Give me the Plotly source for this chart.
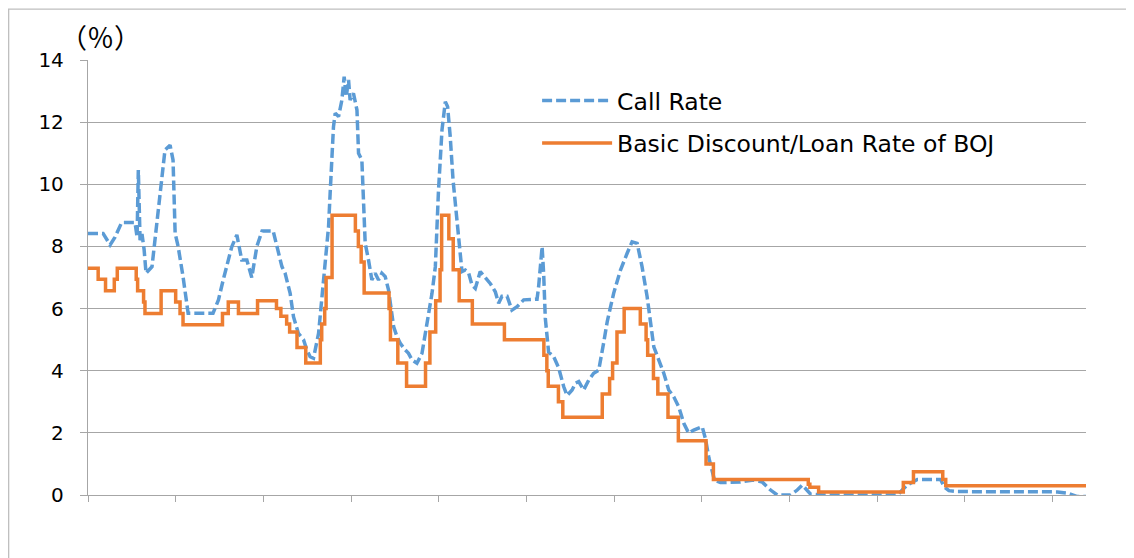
import plotly.graph_objects as go

# Call rate (decimal year, %)
call_year = [1960.00, 1960.86, 1961.26, 1961.54, 1961.92, 1962.68, 1962.80, 1962.87, 1962.97, 1963.08,
             1963.20, 1963.31, 1963.65, 1963.88, 1964.11, 1964.39, 1964.68, 1964.85, 1964.97, 1965.14,
             1965.42, 1965.71, 1967.13, 1967.44, 1967.71, 1968.20, 1968.49, 1968.77, 1969.06, 1969.34,
             1969.63, 1969.93, 1970.56, 1970.77, 1971.06, 1971.24, 1971.53, 1971.72, 1972.00, 1972.29,
             1972.48, 1972.67, 1972.86, 1973.15, 1973.34, 1973.53, 1973.72, 1973.81, 1974.00, 1974.10,
             1974.29, 1974.48, 1974.61, 1974.73, 1974.86, 1974.95, 1975.14, 1975.34, 1975.43, 1975.62,
             1975.71, 1975.81, 1976.00, 1976.19, 1976.38, 1976.57, 1976.76, 1976.95, 1977.14, 1977.33,
             1977.43, 1977.62, 1977.81, 1978.09, 1978.28, 1978.48, 1978.76, 1979.05, 1979.24, 1979.42,
             1979.62, 1979.81, 1979.99, 1980.19, 1980.38, 1980.51, 1980.66, 1980.82, 1981.00, 1981.19,
             1981.33, 1981.52, 1981.71, 1981.90, 1982.09, 1982.37, 1982.66, 1982.95, 1983.23, 1983.42,
             1983.61, 1983.90, 1984.18, 1984.47, 1984.85, 1985.23, 1985.61, 1985.70, 1985.90, 1985.99,
             1986.08, 1986.27, 1986.56, 1986.84, 1987.13, 1987.32, 1987.61, 1987.80, 1987.99, 1988.27,
             1988.56, 1988.84, 1989.13, 1989.41, 1989.62, 1989.98, 1990.37, 1990.75, 1991.03, 1991.32,
             1991.60, 1991.89, 1992.08, 1992.27, 1992.55, 1992.84, 1993.12, 1993.41, 1993.69, 1993.98,
             1994.26, 1994.55, 1995.03, 1995.22, 1995.41, 1995.60, 1995.73, 1996.07, 1997.21, 1997.97,
             1998.45, 1998.93, 1999.31, 2000.07, 2000.45, 2000.74, 2000.92, 2001.21, 2001.95, 2006.18,
             2006.44, 2006.73, 2007.30, 2008.63, 2008.82, 2009.10, 2009.58, 2015.29, 2015.86, 2016.43,
             2016.92]
call_rate = [8.42, 8.42, 8.05, 8.30, 8.77, 8.77, 8.30, 10.46, 8.20, 8.40,
             7.90, 7.14, 7.35, 8.50, 9.80, 11.10, 11.26, 10.78, 8.42, 8.00,
             7.03, 5.85, 5.85, 6.28, 6.92, 7.99, 8.37, 7.56, 7.56, 7.00,
             8.00, 8.50, 8.50, 8.00, 7.35, 7.14, 6.49, 5.74, 5.20, 5.00,
             4.67, 4.45, 4.40, 5.20, 6.28, 7.56, 8.64, 9.71, 11.85, 12.29,
             12.18, 12.71, 13.46, 12.82, 13.36, 12.71, 12.93, 12.39, 11.00, 10.78,
             9.50, 8.10, 7.56, 6.92, 7.14, 6.92, 7.14, 7.03, 6.60, 5.85,
             5.42, 5.10, 4.88, 4.67, 4.56, 4.35, 4.24, 4.56, 5.20, 5.74,
             6.49, 7.35, 9.80, 11.75, 12.66, 12.50, 11.53, 10.14, 9.07, 8.00,
             7.19, 7.24, 7.14, 6.76, 6.65, 7.19, 7.00, 6.80, 6.54, 6.17,
             6.40, 6.40, 5.95, 6.06, 6.28, 6.28, 6.30, 6.70, 7.99, 7.10,
             5.70, 4.60, 4.45, 4.10, 3.49, 3.20, 3.38, 3.60, 3.65, 3.38,
             3.70, 3.92, 4.02, 4.90, 5.60, 6.49, 7.24, 7.78, 8.15, 8.10,
             7.35, 6.38, 5.53, 4.77, 4.35, 3.92, 3.38, 3.16, 2.84, 2.31,
             1.99, 2.09, 2.20, 1.80, 1.20, 0.80, 0.48, 0.40, 0.42, 0.48,
             0.42, 0.16, 0.00, 0.00, 0.16, 0.32, 0.20, 0.03, 0.00, 0.00,
             0.16, 0.32, 0.50, 0.50, 0.27, 0.14, 0.11, 0.10, 0.06, -0.05,
             -0.05]

# Basic discount / loan rate of BOJ (change dates as decimal year, %)
boj_year = [1960.00, 1960.58, 1961.00, 1961.50, 1961.67, 1962.75, 1962.83, 1963.17, 1963.25, 1964.17,
            1965.00, 1965.25, 1965.42, 1967.67, 1968.00, 1968.58, 1969.67, 1970.75, 1971.00, 1971.33,
            1971.50, 1971.92, 1972.42, 1973.25, 1973.33, 1973.50, 1973.58, 1973.92, 1975.25, 1975.42,
            1975.58, 1975.75, 1977.17, 1977.25, 1977.67, 1978.17, 1979.25, 1979.50, 1979.83, 1980.08,
            1980.17, 1980.58, 1980.83, 1981.17, 1981.92, 1983.75, 1986.00, 1986.17, 1986.25, 1986.83,
            1987.08, 1989.33, 1989.75, 1989.92, 1990.17, 1990.58, 1991.50, 1991.83, 1991.92, 1992.25,
            1992.50, 1993.08, 1993.67, 1995.25, 1995.67, 2001.08, 2001.17, 2001.67, 2006.50, 2007.08,
            2008.75, 2008.92, 2016.92]
boj_rate = [7.30, 6.94, 6.57, 6.94, 7.30, 6.94, 6.57, 6.21, 5.84, 6.57,
            6.21, 5.84, 5.48, 5.84, 6.21, 5.84, 6.25, 6.00, 5.75, 5.50,
            5.25, 4.75, 4.25, 5.00, 5.50, 6.00, 7.00, 9.00, 8.50, 8.00,
            7.50, 6.50, 6.00, 5.00, 4.25, 3.50, 4.25, 5.25, 6.25, 7.25,
            9.00, 8.25, 7.25, 6.25, 5.50, 5.00, 4.50, 4.00, 3.50, 3.00,
            2.50, 3.25, 3.75, 4.25, 5.25, 6.00, 5.50, 5.00, 4.50, 3.75,
            3.25, 2.50, 1.75, 1.00, 0.50, 0.35, 0.25, 0.10, 0.40, 0.75,
            0.50, 0.30, 0.30]

x_ticks = [1960, 1965, 1970, 1975, 1980, 1985, 1990, 1995, 2000, 2005, 2010, 2015]
y_ticks = [0, 2, 4, 6, 8, 10, 12, 14]

CJK = "Noto Sans CJK JP"
LAT = "DejaVu Sans"
GRID = "#a6a6a6"

fig = go.Figure()
fig.add_trace(go.Scatter(
    x=call_year, y=call_rate, mode="lines", name="Call Rate",
    legendgroup="a",
    line=dict(color="#5B9BD5", width=3.5, dash="10px,4px"),
))
fig.add_trace(go.Scatter(
    x=boj_year, y=boj_rate, mode="lines", name="Basic Discount/Loan Rate of BOJ",
    legendgroup="b",
    line=dict(color="#ED7D31", width=3.5, shape="hv"),
))

fig.update_layout(
    width=1126, height=550,
    margin=dict(l=80, r=48, t=52, b=63),
    paper_bgcolor="white", plot_bgcolor="white",
    font=dict(family=LAT, size=20, color="black"),
    showlegend=True,
    legend=dict(
        x=0.45, y=0.957, xanchor="left", yanchor="top",
        bgcolor="rgba(0,0,0,0)", itemwidth=70,
        tracegroupgap=9,
        font=dict(family=LAT, size=23.5, color="black"),
    ),
    xaxis=dict(
        range=[1960, 2016.92], tickvals=x_ticks, showticklabels=False,
        ticks="outside", ticklen=6, tickcolor=GRID, tickwidth=1.3,
        showline=True, linecolor=GRID, linewidth=1.3,
        showgrid=False, zeroline=False,
    ),
    yaxis=dict(
        range=[0, 14], tickvals=y_ticks,
        ticks="outside", ticklen=7, tickcolor=GRID, tickwidth=1.3,
        ticklabelstandoff=12,
        showline=True, linecolor=GRID, linewidth=1.3,
        showgrid=True, gridcolor=GRID, gridwidth=1.3,
        zeroline=False,
        tickfont=dict(family=LAT, size=20, color="black"),
    ),
    annotations=[dict(
        text="（％）", xref="paper", yref="paper", x=-0.03, y=1.053,
        xanchor="left", yanchor="middle", showarrow=False,
        font=dict(family=CJK, size=27, color="black"),
    )],
    shapes=[dict(
        type="rect", xref="paper", yref="paper",
        x0=-0.0795, x1=1.06, y0=-0.2, y1=1.117,
        line=dict(color="#bfbfbf", width=1.3), fillcolor="rgba(0,0,0,0)",
        layer="below",
    )],
)

fig.write_html("out.html")
